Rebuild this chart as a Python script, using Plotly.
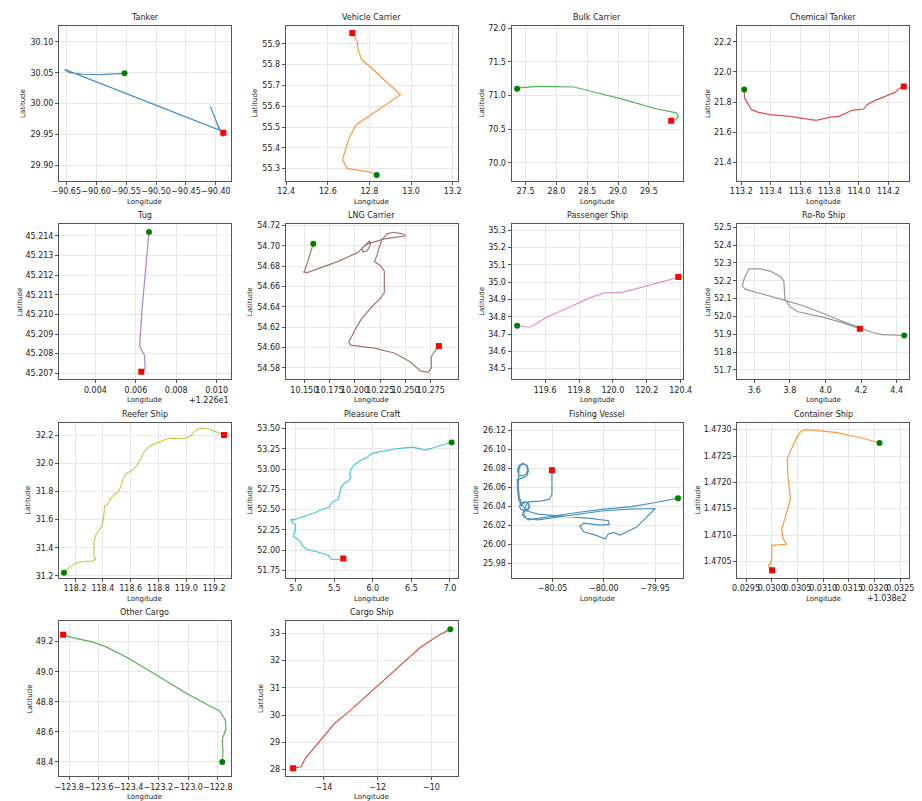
import plotly.graph_objects as go

# ---------------- data ----------------
ship_names = ["Tanker", "Vehicle Carrier", "Bulk Carrier", "Chemical Tanker",
              "Tug", "LNG Carrier", "Passenger Ship", "Ro-Ro Ship",
              "Reefer Ship", "Pleasure Craft", "Fishing Vessel", "Container Ship",
              "Other Cargo", "Cargo Ship"]
line_colors = ["#1f77b4", "#ff7f0e", "#2ca02c", "#d62728", "#9467bd", "#8c564b", "#e377c2",
               "#7f7f7f", "#bcbd22", "#17becf", "#1f77b4", "#ff7f0e", "#2ca02c", "#d62728"]

tanker_lon = [-90.5526, -90.575, -90.594, -90.622, -90.645, -90.6527, -90.394, -90.409, -90.398, -90.3875, -90.3875]
tanker_lat = [30.049, 30.0475, 30.0468, 30.0475, 30.050, 30.0554, 29.957, 29.995, 29.968, 29.946, 29.9527]

vehicle_lon = [12.835, 12.80, 12.6943, 12.6708, 12.7022, 12.7366, 12.9495, 12.7616, 12.746, 12.7413, 12.7178]
vehicle_lat = [55.2696, 55.285, 55.300, 55.3432, 55.4472, 55.5112, 55.6552, 55.8264, 55.8712, 55.9112, 55.9512]

bulk_lon = [27.361, 27.431, 27.697, 28.284, 28.657, 29.084, 29.617, 29.948, 29.98, 29.937, 29.863]
bulk_lat = [71.102, 71.117, 71.136, 71.127, 71.042, 70.943, 70.804, 70.744, 70.695, 70.645, 70.625]

chem_lon = [113.220, 113.2223, 113.2402, 113.2536, 113.2692, 113.3183, 113.3964, 113.5304, 113.7089,
            113.798, 113.865, 113.954, 114.0326, 114.055, 114.111, 114.2446, 114.278, 114.305]
chem_lat = [21.884, 21.8265, 21.7978, 21.7757, 21.7492, 21.7315, 21.716, 21.705, 21.6785,
            21.698, 21.705, 21.745, 21.7536, 21.782, 21.811, 21.864, 21.893, 21.904]

tug_lon = [12.26665, 12.26654, 12.26643, 12.2663, 12.26619, 12.26643, 12.26646, 12.26638, 12.26627]
tug_lat = [45.2142, 45.21304, 45.21186, 45.21018, 45.20838, 45.20791, 45.20724, 45.20712, 45.20708]

lng_lon = [10.1589, 10.1550, 10.1505, 10.1492, 10.1528, 10.1657, 10.1836, 10.2031, 10.2112, 10.2144,
           10.2154, 10.2122, 10.2079, 10.2070, 10.2128, 10.2291, 10.2502, 10.2469, 10.2388, 10.2323,
           10.2274, 10.2242, 10.2219, 10.2193, 10.2258, 10.2291, 10.2291, 10.2258, 10.2161, 10.2063,
           10.1998, 10.1940, 10.1959, 10.2193, 10.2388, 10.2550, 10.2648, 10.2729, 10.2755, 10.2755,
           10.2784, 10.2830]
lng_lat = [54.7019, 54.6896, 54.6756, 54.6740, 54.6737, 54.6782, 54.6847, 54.6935, 54.7010, 54.7049,
           54.7010, 54.6951, 54.6938, 54.6977, 54.7019, 54.7068, 54.7097, 54.7117, 54.7133, 54.7120,
           54.7068, 54.6994, 54.6906, 54.6847, 54.6799, 54.6750, 54.6539, 54.6490, 54.6393, 54.6279,
           54.6166, 54.6052, 54.6023, 54.5994, 54.5945, 54.5857, 54.5769, 54.5756, 54.5799, 54.5906,
           54.5955, 54.6013]

passenger_lon = [119.435, 119.470, 119.503, 119.528, 119.567, 119.606, 119.674, 119.771, 119.868,
                 119.955, 120.043, 120.101, 120.217, 120.295, 120.353, 120.386]
passenger_lat = [34.748, 34.742, 34.739, 34.748, 34.773, 34.796, 34.824, 34.868, 34.910,
                 34.939, 34.939, 34.952, 34.981, 35.002, 35.019, 35.029]

roro_lon = [4.443, 4.391, 4.317, 4.262, 4.188, 4.077, 3.984, 3.874, 3.763, 3.652, 3.550, 3.532,
            3.541, 3.569, 3.633, 3.689, 3.744, 3.766, 3.772, 3.800, 3.846, 3.984, 4.095, 4.193]
roro_lat = [51.893, 51.894, 51.898, 51.911, 51.937, 51.980, 52.018, 52.060, 52.093, 52.122, 52.152, 52.170,
            52.207, 52.267, 52.267, 52.254, 52.226, 52.198, 52.096, 52.054, 52.026, 51.996, 51.965, 51.931]

reefer_lon = [118.120, 118.160, 118.212, 118.278, 118.320, 118.348, 118.336, 118.336, 118.348, 118.372,
              118.395, 118.407, 118.414, 118.431, 118.454, 118.478, 118.513, 118.532, 118.548, 118.572,
              118.607, 118.642, 118.666, 118.701, 118.736, 118.795, 118.866, 118.913, 118.984, 119.031,
              119.066, 119.101, 119.160, 119.219, 119.271]
reefer_lat = [31.2235, 31.263, 31.294, 31.304, 31.304, 31.318, 31.346, 31.440, 31.487, 31.522,
              31.558, 31.628, 31.699, 31.704, 31.746, 31.774, 31.798, 31.840, 31.899, 31.929,
              31.946, 31.981, 32.028, 32.087, 32.122, 32.146, 32.176, 32.179, 32.174, 32.193,
              32.235, 32.249, 32.245, 32.221, 32.200]

pleasure_lon = [7.021, 6.915, 6.787, 6.681, 6.617, 6.511, 6.319, 6.191, 6.064, 5.979, 5.936, 5.830,
                5.766, 5.715, 5.702, 5.715, 5.681, 5.617, 5.587, 5.553, 5.468, 5.434, 5.362, 5.255,
                5.106, 4.979, 4.936, 4.957, 5.000, 4.987, 4.970, 5.021, 5.064, 5.085, 5.149, 5.298,
                5.426, 5.468, 5.532, 5.617]
pleasure_lat = [53.327, 53.303, 53.262, 53.233, 53.249, 53.270, 53.253, 53.233, 53.209, 53.188, 53.151, 53.098,
                53.057, 52.996, 52.935, 52.894, 52.853, 52.812, 52.771, 52.628, 52.587, 52.526, 52.513, 52.464,
                52.415, 52.374, 52.383, 52.342, 52.309, 52.219, 52.170, 52.137, 52.105, 52.056, 52.007, 51.974,
                51.933, 51.884, 51.884, 51.896]

fishing_lon = [-79.9276, -79.9490, -79.9747, -80.0003, -80.0260, -80.0484, -80.0644, -80.0740, -80.0795,
               -80.0772, -80.0737, -80.0722, -80.0737, -80.0772, -80.0807, -80.0822, -80.0807,
               -80.0765, -80.0738, -80.0727, -80.0738, -80.0765, -80.0792, -80.0803,
               -80.0830, -80.0840, -80.0845,
               -80.0788, -80.0750, -80.0734, -80.0750, -80.0788, -80.0826, -80.0842, -80.0826,
               -80.0785, -80.0755, -80.0743, -80.0755, -80.0785, -80.0815, -80.0827, -80.0830,
               -80.0835, -80.0825, -80.0800, -80.0756, -80.0644, -80.0388, -80.0131, -79.9955, -79.9946,
               -80.0035, -80.0196, -80.0234, -80.0196, -80.0067, -79.9987, -79.9955, -79.9907, -79.9843,
               -79.9683, -79.9497, -79.9747, -80.0003, -80.0228, -80.0452, -80.0644, -80.0756, -80.0788,
               -80.0740, -80.0612, -80.0532, -80.0506, -80.0506]
fishing_lat = [26.0485, 26.0439, 26.0394, 26.0369, 26.0334, 26.0299, 26.0271, 26.0257, 26.0306,
               26.0348, 26.0363, 26.0398, 26.0433, 26.0448, 26.0433, 26.0398, 26.0363,
               26.0364, 26.0375, 26.0402, 26.0429, 26.0440, 26.0429, 26.0402,
               26.0470, 26.0560, 26.0680,
               26.0699, 26.0722, 26.0776, 26.0830, 26.0853, 26.0830, 26.0776, 26.0722,
               26.0723, 26.0741, 26.0785, 26.0829, 26.0847, 26.0829, 26.0785, 26.0740,
               26.0620, 26.0500, 26.0420, 26.0352, 26.0317, 26.0292, 26.0271, 26.0247, 26.0208,
               26.0201, 26.0222, 26.0187, 26.0131, 26.0089, 26.0054, 26.0107, 26.0124, 26.0096,
               26.0177, 26.0376, 26.0369, 26.0352, 26.0317, 26.0282, 26.0257, 26.0271, 26.0334,
               26.0446, 26.0453, 26.0474, 26.0527, 26.0779]

container_lon = [103.832095, 103.831756, 103.831245, 103.830862, 103.83067, 103.830575, 103.830511,
                 103.830415, 103.8303, 103.830319, 103.830364, 103.830255, 103.830192, 103.830224,
                 103.830287, 103.83, 103.83, 103.829981, 103.829936, 103.829955, 103.830045,
                 103.829981, 103.830006]
container_lat = [1.472747, 1.472842, 1.472949, 1.472987, 1.4730, 1.472975, 1.472892,
                 1.472703, 1.472437, 1.47207, 1.47169, 1.47131, 1.471101, 1.47093,
                 1.470823, 1.470804, 1.470551, 1.470456, 1.470424, 1.470373, 1.470348,
                 1.470323, 1.470329]

othercargo_lon = [-122.77, -122.765, -122.77, -122.745, -122.75, -122.79, -122.85, -123.0, -123.2,
                  -123.4, -123.55, -123.65, -123.75, -123.84]
othercargo_lat = [48.40, 48.47, 48.55, 48.62, 48.68, 48.74, 48.77, 48.85, 48.97,
                  49.09, 49.165, 49.20, 49.22, 49.245]

cargo_lon = [-9.3, -9.7, -10.4, -11.3, -12.2, -13.1, -13.6, -14.2, -14.7, -14.85, -15.15]
cargo_lat = [33.15, 32.95, 32.5, 31.7, 30.9, 30.1, 29.7, 29.0, 28.4, 28.1, 28.05]

all_lon = [tanker_lon, vehicle_lon, bulk_lon, chem_lon, tug_lon, lng_lon, passenger_lon, roro_lon,
           reefer_lon, pleasure_lon, fishing_lon, container_lon, othercargo_lon, cargo_lon]
all_lat = [tanker_lat, vehicle_lat, bulk_lat, chem_lat, tug_lat, lng_lat, passenger_lat, roro_lat,
           reefer_lat, pleasure_lat, fishing_lat, container_lat, othercargo_lat, cargo_lat]

# axis ranges
x_ranges = [[-90.662, -90.375], [12.398, 13.2235], [27.2707, 30.06], [113.173, 114.341],
            [12.2622, 12.2707], [10.1317, 10.3015], [119.402, 120.4155], [3.504, 4.470],
            [118.085, 119.32], [4.872, 7.098], [-80.090, -79.9224], [103.82933, 103.83267],
            [-123.8675, -122.7125], [-15.42, -9.03]]
y_ranges = [[29.875, 30.126], [55.2424, 55.986], [69.737, 72.035], [21.278, 22.306],
            [45.2067, 45.21459], [54.5688, 54.7211], [34.439, 35.334], [51.648, 52.517],
            [31.188, 32.287], [51.66, 53.57], [25.9646, 26.128], [1.47019, 1.47313],
            [48.305, 49.335], [27.755, 33.445]]

# ticks
x_tickvals = [[-90.65, -90.60, -90.55, -90.50, -90.45, -90.40], [12.4, 12.6, 12.8, 13.0, 13.2],
              [27.5, 28.0, 28.5, 29.0, 29.5], [113.2, 113.4, 113.6, 113.8, 114.0, 114.2],
              [12.264, 12.266, 12.268, 12.270], [10.150, 10.175, 10.200, 10.225, 10.250, 10.275],
              [119.6, 119.8, 120.0, 120.2, 120.4], [3.6, 3.8, 4.0, 4.2, 4.4],
              [118.2, 118.4, 118.6, 118.8, 119.0, 119.2], [5.0, 5.5, 6.0, 6.5, 7.0],
              [-80.05, -80.00, -79.95],
              [103.8295, 103.8300, 103.8305, 103.8310, 103.8315, 103.8320, 103.8325],
              [-123.8, -123.6, -123.4, -123.2, -123.0, -122.8], [-14, -12, -10]]
x_ticktext = [["−90.65", "−90.60", "−90.55", "−90.50", "−90.45", "−90.40"], ["12.4", "12.6", "12.8", "13.0", "13.2"],
              ["27.5", "28.0", "28.5", "29.0", "29.5"], ["113.2", "113.4", "113.6", "113.8", "114.0", "114.2"],
              ["0.004", "0.006", "0.008", "0.010"], ["10.150", "10.175", "10.200", "10.225", "10.250", "10.275"],
              ["119.6", "119.8", "120.0", "120.2", "120.4"], ["3.6", "3.8", "4.0", "4.2", "4.4"],
              ["118.2", "118.4", "118.6", "118.8", "119.0", "119.2"], ["5.0", "5.5", "6.0", "6.5", "7.0"],
              ["−80.05", "−80.00", "−79.95"],
              ["0.0295", "0.0300", "0.0305", "0.0310", "0.0315", "0.0320", "0.0325"],
              ["−123.8", "−123.6", "−123.4", "−123.2", "−123.0", "−122.8"], ["−14", "−12", "−10"]]
y_tickvals = [[29.90, 29.95, 30.00, 30.05, 30.10], [55.3, 55.4, 55.5, 55.6, 55.7, 55.8, 55.9],
              [70.0, 70.5, 71.0, 71.5, 72.0], [21.4, 21.6, 21.8, 22.0, 22.2],
              [45.207, 45.208, 45.209, 45.210, 45.211, 45.212, 45.213, 45.214],
              [54.58, 54.60, 54.62, 54.64, 54.66, 54.68, 54.70, 54.72],
              [34.5, 34.6, 34.7, 34.8, 34.9, 35.0, 35.1, 35.2, 35.3],
              [51.7, 51.8, 51.9, 52.0, 52.1, 52.2, 52.3, 52.4, 52.5],
              [31.2, 31.4, 31.6, 31.8, 32.0, 32.2],
              [51.75, 52.00, 52.25, 52.50, 52.75, 53.00, 53.25, 53.50],
              [25.98, 26.00, 26.02, 26.04, 26.06, 26.08, 26.10, 26.12],
              [1.4705, 1.4710, 1.4715, 1.4720, 1.4725, 1.4730],
              [48.4, 48.6, 48.8, 49.0, 49.2], [28, 29, 30, 31, 32, 33]]
y_decimals = [2, 1, 1, 1, 3, 2, 1, 1, 1, 2, 2, 4, 1, 0]
x_offset_text = {4: "+1.226e1", 11: "+1.038e2"}

# ---------------- layout geometry (pixels) ----------------
FW, FH = 922, 801
col_left = [52, 283, 513, 743]
row_top = [23, 223, 423, 623]
BW, BH = 175, 156
boxes = [[col_left[i % 4], row_top[i // 4], BW, BH] for i in range(14)]
lat_label_dx = [36, 31, 30, 30, 40, 37, 30, 30, 31, 36, 36, 40, 30, 26]

FONT = "DejaVu Sans"
fig = go.Figure()
annotations = []
layout = dict(width=FW, height=FH, margin=dict(l=0, r=0, t=0, b=0),
              paper_bgcolor="white", plot_bgcolor="white", showlegend=False,
              font=dict(family=FONT, color="#222222", size=8))

for i in range(14):
    k = "" if i == 0 else str(i + 1)
    xa, ya = "x" + k, "y" + k
    left, top, w, h = boxes[i]
    x0, x1 = left / FW, (left + w) / FW
    y0, y1 = 1 - (top + h) / FH, 1 - top / FH
    lon, lat = all_lon[i], all_lat[i]
    fig.add_trace(go.Scatter(x=lon, y=lat, mode="lines", xaxis=xa, yaxis=ya,
                             line=dict(color=line_colors[i], width=1.2), opacity=0.8,
                             hoverinfo="skip"))
    fig.add_trace(go.Scatter(x=[lon[0]], y=[lat[0]], mode="markers", xaxis=xa, yaxis=ya,
                             marker=dict(color="green", size=6, symbol="circle")))
    fig.add_trace(go.Scatter(x=[lon[-1]], y=[lat[-1]], mode="markers", xaxis=xa, yaxis=ya,
                             marker=dict(color="red", size=6, symbol="square")))
    axcommon = dict(showline=True, mirror=True, linecolor="#555555", linewidth=1,
                    showgrid=True, gridcolor="#e8e8e8", gridwidth=1, zeroline=False,
                    ticks="outside", ticklen=3, tickcolor="#555555", tickwidth=1, tickangle=0,
                    tickfont=dict(family=FONT, size=8, color="#222222"))
    layout["xaxis" + k] = dict(axcommon, domain=[x0, x1], anchor=ya, range=x_ranges[i],
                               tickmode="array", tickvals=x_tickvals[i], ticktext=x_ticktext[i])
    nd = y_decimals[i]
    layout["yaxis" + k] = dict(axcommon, domain=[y0, y1], anchor=xa, range=y_ranges[i],
                               tickmode="array", tickvals=y_tickvals[i],
                               ticktext=[f"{v:.{nd}f}" for v in y_tickvals[i]])
    cx = (left + w / 2) / FW
    annotations.append(dict(text=ship_names[i], x=cx, y=y1, xref="paper", yref="paper",
                            xanchor="center", yanchor="bottom", yshift=2, showarrow=False,
                            font=dict(family=FONT, size=8, color="#222222")))
    annotations.append(dict(text="Longitude", x=cx, y=1 - (top + h + 21) / FH, xref="paper", yref="paper",
                            xanchor="center", yanchor="middle", showarrow=False,
                            font=dict(family=FONT, size=7, color="#222222")))
    annotations.append(dict(text="Latitude", x=(left - lat_label_dx[i]) / FW, y=(y0 + y1) / 2,
                            xref="paper", yref="paper", xanchor="center", yanchor="middle",
                            textangle=-90, showarrow=False,
                            font=dict(family=FONT, size=7, color="#222222")))
    if i in x_offset_text:
        annotations.append(dict(text=x_offset_text[i], x=(left + w) / FW, y=1 - (top + h + 21) / FH,
                                xref="paper", yref="paper", xanchor="right", yanchor="middle",
                                showarrow=False, font=dict(family=FONT, size=8, color="#222222")))

layout["annotations"] = annotations
fig.update_layout(**layout)
fig.write_html("out.html")
